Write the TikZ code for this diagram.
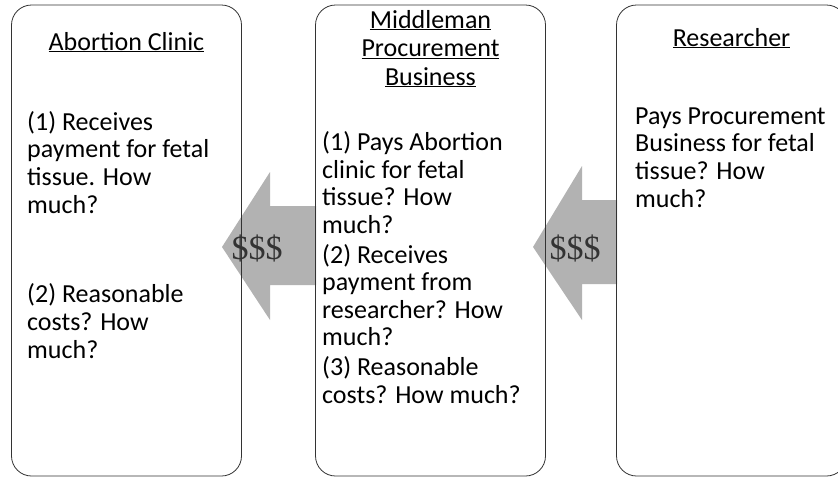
\documentclass[tikz,border=0pt]{standalone}
\usepackage{fontspec}
\setmainfont{Carlito}
\newfontfamily\dollarfont{Liberation Serif}
\usetikzlibrary{positioning}

\begin{document}
\begin{tikzpicture}[x=1pt, y=-1pt,
		panel/.style={draw=black!80, line width=0.8pt, rounded corners=20pt, minimum width=230pt, minimum height=471pt, inner sep=0pt},
		title/.style={font=\fontsize{26}{28.5}\selectfont, align=center, anchor=base, inner sep=0pt},
		body/.style={font=\fontsize{26}{27.6}\selectfont, align=left, anchor=base west, inner sep=0pt},
		cash/.style={fill=black!30},
		money/.style={font=\dollarfont\fontsize{34}{34}\selectfont, text=black!80, inner sep=0pt}
	]
	\useasboundingbox (0,0) rectangle (838,480);

	% money arrows (behind the boxes)
	\fill[cash] (222,247) -- (270,172) -- (270,206) -- (316,206) -- (316,285) -- (270,285) -- (270,320) -- cycle;
	\fill[cash] (533,247) -- (582,166) -- (582,200) -- (617,200) -- (617,284) -- (582,284) -- (582,320) -- cycle;

	\node[panel] (clinic) at (126.5,240.5) {};
	\node[panel] (broker) at (430.5,240.5) {};
	\node[panel] (lab) at (731.5,240.5) {};

	\node[money] (pay1) at (257,248) {\$\$\$};
	\node[money] (pay2) at (575,248) {\$\$\$};

	% multi-line nodes sit on their last baseline
	\node[title] (clinicT) at (126.5,50) {\underline{Abortion Clinic}};
	\node[title] (brokerT) at (430.5,85) {\underline{Middleman}\\\underline{Procurement}\\\underline{Business}};
	\node[title] (labT) at (731.5,46) {\underline{Researcher}};

	\node[body] (clinic1) at (27,213) {(1) Receives\\payment for fetal\\tissue. How\\much?};
	\node[body] (clinic2) at (27,358) {(2) Reasonable\\costs? How\\much?};
	\node[body] (broker1) at (322,403) {(1) Pays Abortion\\clinic for fetal\\tissue? How\\much?\\[2pt]
		(2) Receives\\payment from\\researcher? How\\much?\\[2pt]
		(3) Reasonable\\costs? How much?};
	\node[body] (lab1) at (635,207) {Pays Procurement\\Business for fetal\\tissue? How\\much?};
\end{tikzpicture}
\end{document}
